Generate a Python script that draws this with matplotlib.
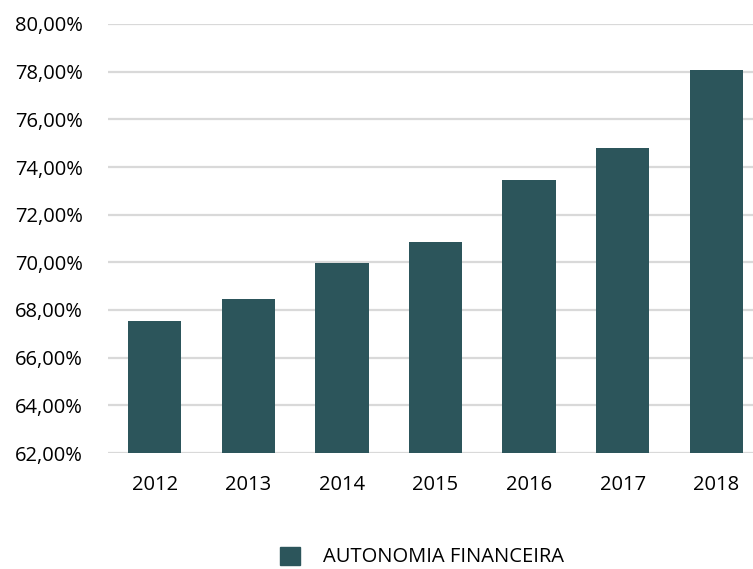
import matplotlib.pyplot as plt
from matplotlib.ticker import FuncFormatter
from matplotlib.patches import Patch

years = ['2012', '2013', '2014', '2015', '2016', '2017', '2018']
autonomia = [67.55, 68.46, 69.97, 70.85, 73.46, 74.80, 78.07]
y_ticks = [62, 64, 66, 68, 70, 72, 74, 76, 78, 80]

bar_color = '#2c555b'
grid_color = '#d9d9d9'

plt.rcParams['font.family'] = ['Open Sans', 'DejaVu Sans']

fig = plt.figure(figsize=(7.53, 5.69), dpi=100)
ax = fig.add_axes([108 / 753, 1 - 453 / 569, 655 / 753, 429 / 569])

x = range(len(years))
ax.bar(x, [v - 62 for v in autonomia], bottom=62, width=0.57, color=bar_color, zorder=3)

ax.set_ylim(62, 80)
ax.set_xlim(-0.5, len(years) - 0.5)
ax.set_yticks(y_ticks)
ax.yaxis.set_major_formatter(FuncFormatter(lambda v, p: f'{v:.2f}%'.replace('.', ',')))
ax.set_xticks(list(x))
ax.set_xticklabels(years)

ax.grid(axis='y', color=grid_color, linewidth=1.6, zorder=0)
for s in ax.spines.values():
    s.set_visible(False)
ax.tick_params(length=0, labelsize=14.5, colors='#000000')
ax.tick_params(axis='y', pad=18)
ax.tick_params(axis='x', pad=16)

leg = fig.legend(handles=[Patch(color=bar_color, label='AUTONOMIA FINANCEIRA')],
                 loc='center', bbox_to_anchor=(422 / 753, 1 - 557 / 569),
                 frameon=False, fontsize=14.5, handlelength=1.0, handleheight=1.0,
                 handletextpad=1.1)

fig.savefig('out.png', dpi=100)
